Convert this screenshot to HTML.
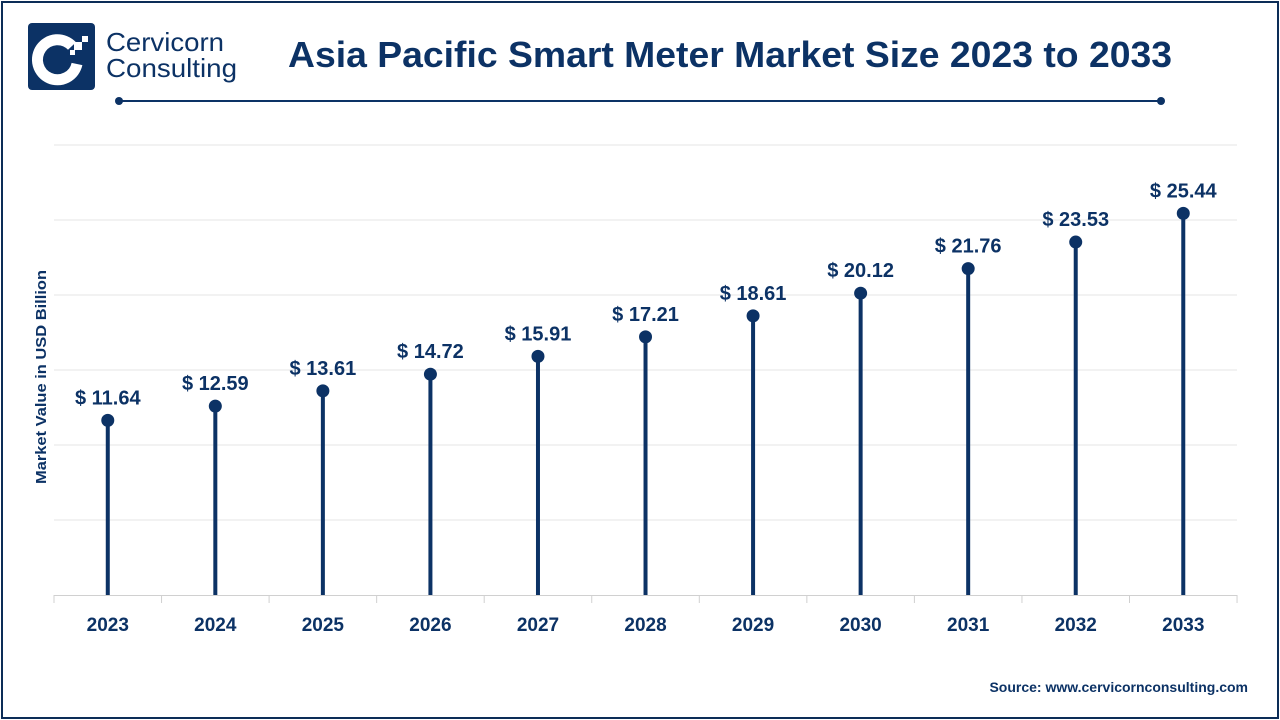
<!DOCTYPE html>
<html><head><meta charset="utf-8"><style>
body{margin:0;width:1280px;height:720px;background:#fff;font-family:"Liberation Sans",sans-serif;overflow:hidden}
.frame{position:absolute;left:1px;top:1px;width:1274px;height:714px;border:2px solid #0c2d57}
</style></head><body>
<div class="frame"></div>
<svg width="1280" height="720" style="position:absolute;left:0;top:0" font-family="Liberation Sans, sans-serif">
<rect x="28" y="23" width="67" height="67" rx="4" fill="#0c3265"/>
<path d="M72 46 A20 20 0 1 0 77 64" fill="none" stroke="#fff" stroke-width="11"/>
<rect x="74" y="42" width="8" height="8" fill="#fff"/>
<rect x="82" y="36" width="6" height="6" fill="#fff"/>
<rect x="70" y="50" width="5" height="5" fill="#fff"/>
<text x="106" y="51" font-size="26" fill="#0c3265" textLength="118" lengthAdjust="spacingAndGlyphs">Cervicorn</text>
<text x="106" y="77" font-size="26" fill="#0c3265" textLength="131" lengthAdjust="spacingAndGlyphs">Consulting</text>
<text x="730" y="67" font-size="36" font-weight="bold" fill="#0c3265" text-anchor="middle" textLength="884" lengthAdjust="spacingAndGlyphs">Asia Pacific Smart Meter Market Size 2023 to 2033</text>
<line x1="119" y1="101" x2="1161" y2="101" stroke="#0c3265" stroke-width="2"/>
<circle cx="119" cy="101" r="4" fill="#0c3265"/><circle cx="1161" cy="101" r="4" fill="#0c3265"/>
<g stroke="#e6e6e6" stroke-width="1">
<line x1="54" y1="145" x2="1237" y2="145"/><line x1="54" y1="220" x2="1237" y2="220"/><line x1="54" y1="295" x2="1237" y2="295"/><line x1="54" y1="370" x2="1237" y2="370"/><line x1="54" y1="445" x2="1237" y2="445"/><line x1="54" y1="520" x2="1237" y2="520"/>
</g>
<line x1="54" y1="595.5" x2="1237" y2="595.5" stroke="#d0d0d0"/>
<g id="ticks" stroke="#d0d0d0"></g>
<text transform="translate(46,377) rotate(-90)" font-size="15" font-weight="bold" fill="#0c3265" text-anchor="middle" textLength="214" lengthAdjust="spacingAndGlyphs">Market Value in USD Billion</text>
<g id="d"></g>
<text x="1248" y="692" font-size="14" font-weight="bold" fill="#0c3265" text-anchor="end">Source: www.cervicornconsulting.com</text>
</svg>
<script>
var v=[11.64,12.59,13.61,14.72,15.91,17.21,18.61,20.12,21.76,23.53,25.44];
var s='',t='';
for(var i=0;i<11;i++){var x=54+107.55*(i+0.5),y=595-v[i]*15;
s+='<line x1="'+x+'" y1="'+y+'" x2="'+x+'" y2="595" stroke="#0c3265" stroke-width="4"/><circle cx="'+x+'" cy="'+y+'" r="6.5" fill="#0c3265"/>';
s+='<text x="'+x+'" y="'+(y-16)+'" font-size="20" font-weight="bold" fill="#0c3265" text-anchor="middle">$ '+v[i].toFixed(2)+'</text>';
s+='<text x="'+x+'" y="631" font-size="19" font-weight="bold" fill="#0c3265" text-anchor="middle">'+(2023+i)+'</text>';}
for(var i=0;i<=11;i++){var x=54+107.55*i;t+='<line x1="'+x+'" y1="595" x2="'+x+'" y2="603"/>';}
document.getElementById('d').innerHTML=s;document.getElementById('ticks').innerHTML=t;
</script>
</body></html>
